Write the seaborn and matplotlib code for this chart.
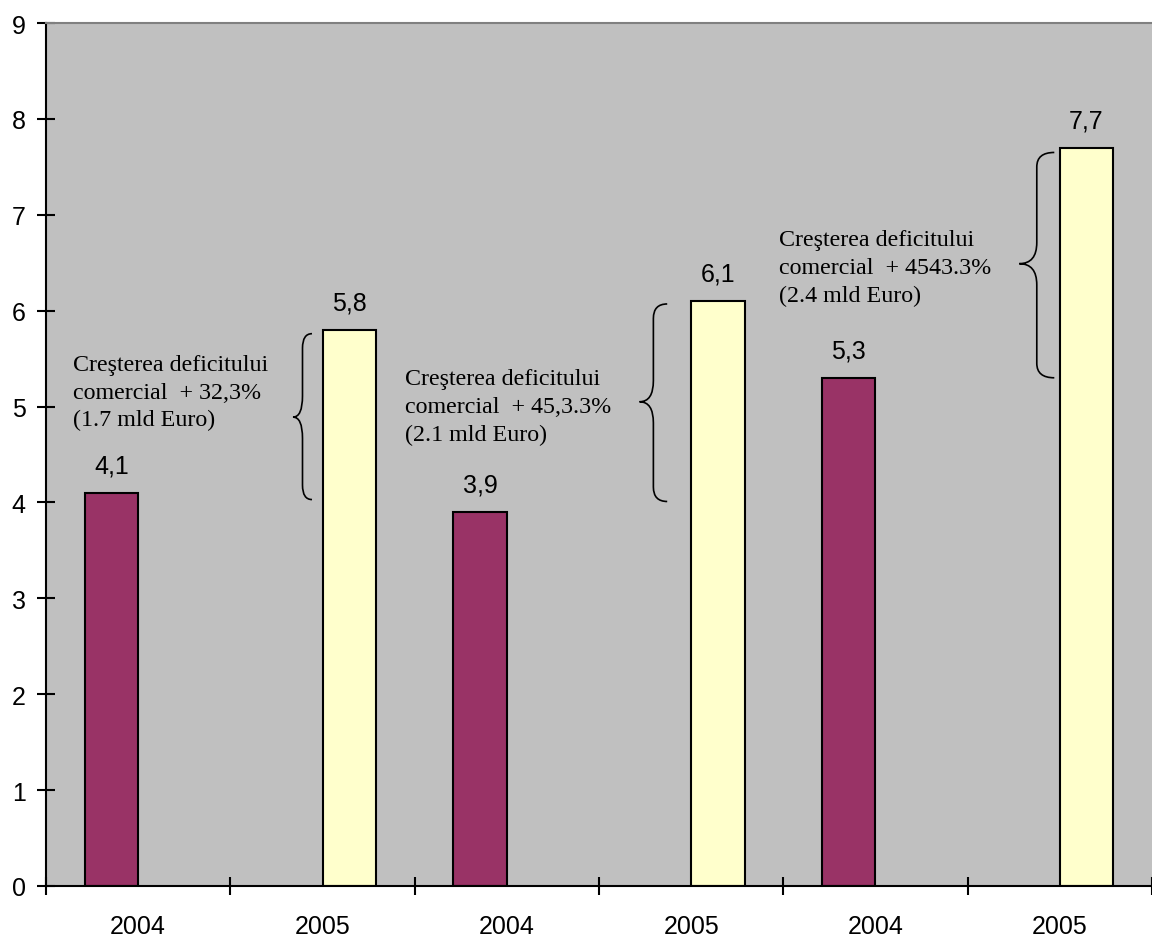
import matplotlib
matplotlib.use('Agg')
import matplotlib.pyplot as plt
import seaborn as sns
import pandas as pd
import numpy as np
from matplotlib.path import Path
from matplotlib.patches import PathPatch

# ---- data ----
categories = ['2004', '2005', '2004', '2005', '2004', '2005']
series = ['2004', '2005', '2004', '2005', '2004', '2005']
values = [4.1, 5.8, 3.9, 6.1, 5.3, 7.7]
annotation_texts = [
    'Creşterea deficitului\ncomercial  + 32,3%\n(1.7 mld Euro)',
    'Creşterea deficitului\ncomercial  + 45,3.3%\n(2.1 mld Euro)',
    'Creşterea deficitului\ncomercial  + 4543.3%\n(2.4 mld Euro)',
]
yticks = list(range(0, 10))

df = pd.DataFrame({'pos': list(range(len(values))), 'series': series, 'value': values})

fig = plt.figure(figsize=(11.52, 9.37), dpi=100)
ax = fig.add_axes([46 / 1152, 50 / 937, 1 - 46 / 1152, 863 / 937])
ax.set_facecolor('#C0C0C0')

sns.barplot(data=df, x='pos', y='value', hue='series', hue_order=['2004', '2005'],
            palette={'2004': '#993366', '2005': '#FFFFCC'}, width=0.58,
            edgecolor='black', linewidth=1.5, dodge=True, legend=False, ax=ax,
            errorbar=None, saturation=1)

SANS = 18
SERIF = 17.3

for cont in ax.containers:
    labs = [f"{v:.1f}".replace('.', ',') for v in cont.datavalues]
    ax.bar_label(cont, labels=labs, padding=11, fontsize=SANS, family='Liberation Sans')

ax.set_xlim(-0.5, 5.5)
ax.set_ylim(0, 9)
ax.set_yticks(yticks)
ax.set_yticklabels([str(t) for t in yticks], fontsize=SANS, family='Liberation Sans')
ax.tick_params(axis='y', direction='inout', length=13, width=1.5, pad=8)

ax.set_xticks(np.arange(-0.5, 6, 1))
ax.set_xticklabels([])
ax.set_xticks(range(len(categories)), minor=True)
ax.set_xticklabels(categories, minor=True, fontsize=SANS, family='Liberation Sans')
ax.tick_params(axis='x', which='major', direction='inout', length=13, width=1.5)
ax.tick_params(axis='x', which='minor', length=0, pad=20)
ax.set_xlabel('')
ax.set_ylabel('')

for s in ['left', 'bottom']:
    ax.spines[s].set_color('black')
    ax.spines[s].set_linewidth(1.5)
ax.spines['top'].set_color('#808080')
ax.spines['top'].set_linewidth(1.5)
ax.spines['right'].set_visible(False)


def brace(x_tip, x_end, y_bot, y_top, y_mid, h=0.15, h2=0.22):
    xm = (x_tip + x_end) / 2
    verts = [(x_end, y_top), (xm, y_top), (xm, y_top - h),
             (xm, y_mid + h2),
             (xm, y_mid), (x_tip, y_mid),
             (xm, y_mid), (xm, y_mid - h2),
             (xm, y_bot + h),
             (xm, y_bot), (x_end, y_bot)]
    codes = [Path.MOVETO, Path.CURVE3, Path.CURVE3,
             Path.LINETO,
             Path.CURVE3, Path.CURVE3,
             Path.CURVE3, Path.CURVE3,
             Path.LINETO,
             Path.CURVE3, Path.CURVE3]
    ax.add_patch(PathPatch(Path(verts, codes), fill=False, edgecolor='black', lw=1.2,
                           clip_on=False))


brace(0.84, 0.943, 4.03, 5.76, 4.89)
brace(2.72, 2.87, 4.01, 6.07, 5.05)
brace(4.78, 4.97, 5.30, 7.65, 6.49)

text_pos = [(-0.354, 5.55), (1.448, 5.40), (3.477, 6.85)]
for (tx, ty), t in zip(text_pos, annotation_texts):
    ax.text(tx, ty, t, ha='left', va='top', fontsize=SERIF, family='Liberation Serif',
            linespacing=1.42)

fig.savefig('out.png', dpi=100)
